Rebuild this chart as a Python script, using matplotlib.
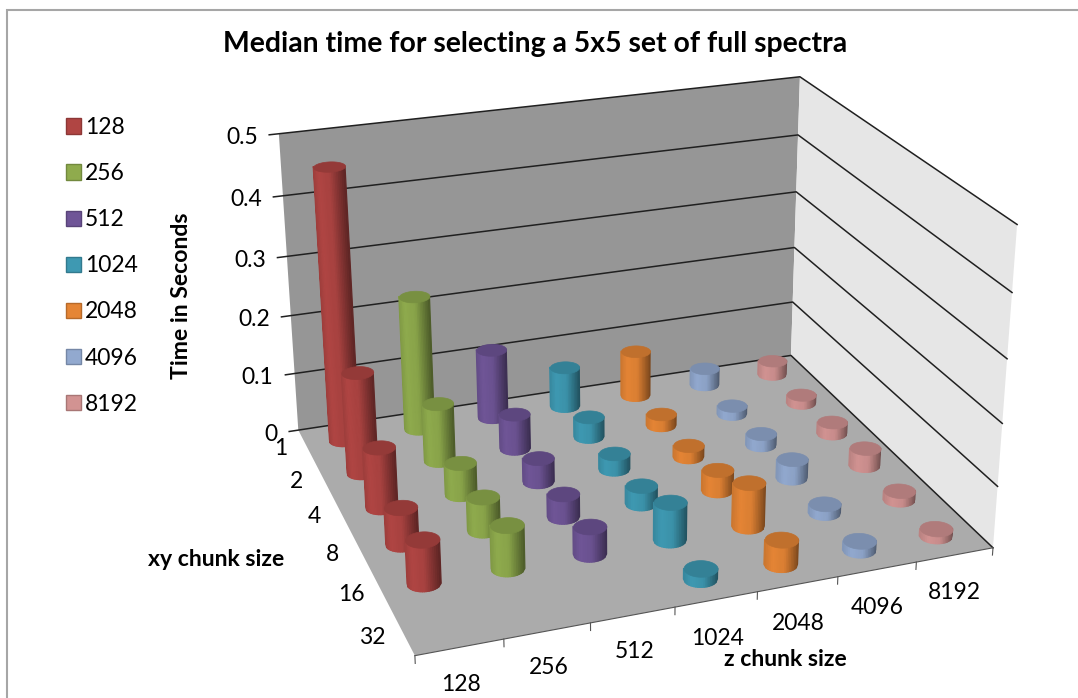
import matplotlib
matplotlib.use("Agg")
import matplotlib.pyplot as plt
import numpy as np
from matplotlib.patches import Patch, Rectangle
from mpl_toolkits.mplot3d import proj3d
from mpl_toolkits.mplot3d.art3d import Poly3DCollection

plt.rcParams['font.family'] = ['Lato', 'DejaVu Sans']

z_sizes = ['128', '256', '512', '1024', '2048', '4096', '8192']
xy_sizes = ['1', '2', '4', '8', '16', '32']
time_ticks = [0, 0.1, 0.2, 0.3, 0.4, 0.5]
time_labels = ['0', '0.1', '0.2', '0.3', '0.4', '0.5']

t128 = [0.46, 0.17, 0.10, 0.06, 0.07, None]
t256 = [0.23, 0.098, 0.053, 0.055, 0.07, None]
t512 = [0.12, 0.06, 0.04, 0.038, 0.045, None]
t1024 = [0.07, 0.035, 0.027, 0.03, 0.062, 0.017]
t2048 = [0.08, 0.02, 0.02, 0.035, 0.072, 0.04]
t4096 = [0.03, 0.015, 0.02, 0.032, 0.015, 0.015]
t8192 = [0.025, 0.015, 0.02, 0.03, 0.015, 0.012]
series = [t128, t256, t512, t1024, t2048, t4096, t8192]
colors = ['#B04543', '#8FAB4D', '#6F5597', '#3E99B2', '#E58535', '#92A9CF', '#D29392']

W, H = 1078, 698
elev, azim, focal = 23.6121, -109.9023, np.exp(-0.6695)
ry, rz = 0.8402, 0.5794
size, cx, cy = 807.3486, 616.6416, 346.8304

fig = plt.figure(figsize=(W / 100, H / 100), dpi=100)
ax = fig.add_axes([(cx - size / 2) / W, (H - cy - size / 2) / H, size / W, size / H],
                  projection='3d', computed_zorder=False)
ax.set_xlim(0, 7)
ax.set_ylim(0, 6)
ax.set_zlim(0, 0.5)
ax.view_init(elev=elev, azim=azim)
ax.set_proj_type('persp', focal_length=focal)
ax.set_box_aspect((1, ry, rz))
ax.set_axis_off()
ax.patch.set_alpha(0)
ax.apply_aspect()


def quad(verts, color, zo):
    ax.add_collection3d(Poly3DCollection([verts], facecolors=color, edgecolors='none', zorder=zo))


# walls and floor
quad([(0, 6, 0), (7, 6, 0), (7, 6, .5), (0, 6, .5)], '#969696', 1)
quad([(7, 0, 0), (7, 6, 0), (7, 6, .5), (7, 0, .5)], '#E6E6E6', 1)
quad([(0, 0, 0), (7, 0, 0), (7, 6, 0), (0, 6, 0)], '#ABABAB', 1)

for t in time_ticks:
    ax.plot([-0.12, 7, 7], [6, 6, 0], [t, t, t], color='#202020', lw=1.1, zorder=2)
ax.plot([0, 7], [0, 0], [0, 0], color='#555555', lw=0.8, zorder=2)
for i in range(8):
    ax.plot([i, i], [0, 0], [0, -0.012], color='#555555', lw=0.8, zorder=2)


def cylinder(xc, yc, h, color, zo, r=0.195, strips=20):
    base = np.array(matplotlib.colors.to_rgb(color))
    # only the half facing the camera, strips of equal width on screen
    u = np.linspace(-1, 1, strips + 1)
    a = np.radians(azim) + np.arcsin(u)
    xs = xc + r * np.cos(a)
    ys = yc + r * np.sin(a)
    um = (u[:-1] + u[1:]) / 2
    # u = -1 is the left side on screen, the right side is in shadow
    f = np.interp(um, [-1, -0.5, 0.1, 0.6, 1], [0.88, 1.0, 0.95, 0.72, 0.52])
    polys = [[(xs[i], ys[i], 0), (xs[i + 1], ys[i + 1], 0), (xs[i + 1], ys[i + 1], h), (xs[i], ys[i], h)]
             for i in range(strips)]
    cols = [np.clip(base * k, 0, 1) for k in f]
    side = Poly3DCollection(polys, facecolors=cols, edgecolors=cols, linewidths=0.9, zorder=zo)
    side.set_snap(False)
    ax.add_collection3d(side)
    ang = np.linspace(0, 2 * np.pi, 49)
    cap = list(zip(xc + r * np.cos(ang), yc + r * np.sin(ang), np.full(49, h)))
    top = Poly3DCollection([cap], facecolors=base * 0.84, edgecolors=base * 0.84, linewidths=0.5, zorder=zo + 0.5)
    top.set_snap(False)
    ax.add_collection3d(top)


bars = []
for i, values in enumerate(series):
    for j, v in enumerate(values):
        if v is not None:
            xc, yc = i + 0.5, 5.5 - j
            depth = xc / 7 * np.cos(np.radians(azim)) + yc / 6 * ry * np.sin(np.radians(azim))
            bars.append((depth, xc, yc, v, colors[i]))
bars.sort(key=lambda b: b[0])
for rank, (depth, xc, yc, v, c) in enumerate(bars):
    cylinder(xc, yc, v, c, 3 + rank)


def px(x, y):
    return x / W, 1 - y / H


def axis_label(x, y, z, dx, dy, text):
    # place a tick label next to a projected axis position, offset in pixels
    tx, ty, _ = proj3d.proj_transform(x, y, z, ax.get_proj())
    ex, ey = ax.transData.transform((tx, ty))
    fig.text((ex + dx) / W, (ey - dy) / H, text, fontsize=16.5, ha='center', va='center')


for t, lab in zip(time_ticks, time_labels):
    axis_label(0, 6, t, -27 if lab == '0' else -37, 4, lab)
for j, lab in enumerate(xy_sizes):
    axis_label(-0.45, 5.5 - j, 0, 9, -3, lab)
for i, lab in enumerate(z_sizes):
    axis_label(i + 0.5, -0.6, 0, -14 - 1.67 * i, 10 if i < 3 else 14, lab)

fig.text(*px(535, 44), 'Median time for selecting a 5x5 set of full spectra', fontsize=20.4, fontweight='bold',
         ha='center', va='center')
fig.text(*px(181, 296), 'Time in Seconds', fontsize=16.6, fontweight='bold', rotation=90, ha='center', va='center')
fig.text(*px(216, 559), 'xy chunk size', fontsize=16.6, fontweight='bold', ha='center', va='center')
fig.text(*px(785, 660), 'z chunk size', fontsize=16.6, fontweight='bold', ha='center', va='center')

handles = [Patch(facecolor=c, edgecolor=np.array(matplotlib.colors.to_rgb(c)) * 0.8, lw=1) for c in colors]
fig.legend(handles, z_sizes, loc='upper left', bbox_to_anchor=px(66, 117), frameon=False, fontsize=16.5,
           handlelength=0.655, handleheight=0.655, labelspacing=1.096, handletextpad=0.17, borderpad=0, borderaxespad=0)

# chart frame, its right and bottom sides are cropped away in the reference
fig.add_artist(Rectangle(px(7, 720), 1100 / W, 710 / H, transform=fig.transFigure, fill=False,
                         edgecolor='#A6A6A6', lw=1.5))
fig.savefig('out.png', dpi=100)
